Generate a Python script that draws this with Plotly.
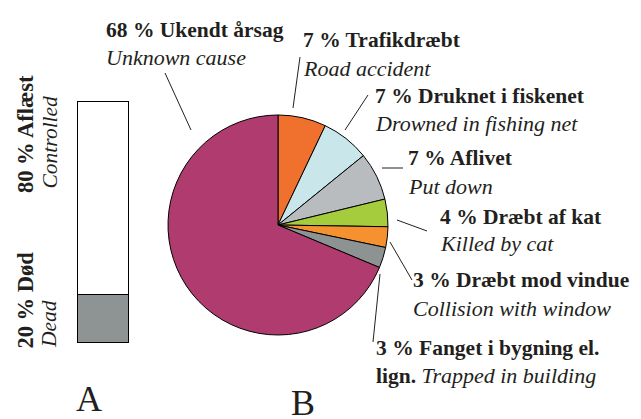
import plotly.graph_objects as go

W, H = 641, 419

# Data
pie_labels_da = ["Trafikdræbt", "Druknet i fiskenet", "Aflivet", "Dræbt af kat",
                 "Dræbt mod vindue", "Fanget i bygning el. lign.", "Ukendt årsag"]
pie_labels_en = ["Road accident", "Drowned in fishing net", "Put down", "Killed by cat",
                 "Collision with window", "Trapped in building", "Unknown cause"]
pie_values = [7, 7, 7, 4, 3, 3, 68]
pie_colors = ["#f0702e", "#c9e7ea", "#b8bcbf", "#a4cc3c", "#f6912f", "#8d9293", "#b03b6f"]

bar_categories = ["Død", "Aflæst"]
bar_values = [20, 80]
bar_colors = ["#8e9394", "#ffffff"]

FONT = "'Liberation Serif', 'DejaVu Serif', serif"
TXT = "#231f20"
BOLD_SIZE = 21.5
ITAL_SIZE = 22

def px(x):
    return x / W

def py(y):
    return 1 - y / H

fig = go.Figure()

fig.add_trace(go.Pie(
    values=pie_values, labels=pie_labels_da, sort=False, direction="clockwise",
    rotation=0, marker=dict(colors=pie_colors, line=dict(color="black", width=1)),
    textinfo="none", hoverinfo="label+percent", showlegend=False,
    domain=dict(x=[px(168), px(388)], y=[py(335), py(115)])
))

for cat, val, col in zip(bar_categories, bar_values, bar_colors):
    fig.add_trace(go.Bar(
        x=[0], y=[val], name=cat, marker=dict(color=col, line=dict(color="black", width=1)),
        showlegend=False, xaxis="x", yaxis="y", width=1
    ))

fig.update_layout(
    width=W, height=H, margin=dict(l=0, r=0, t=0, b=0),
    paper_bgcolor="white", plot_bgcolor="rgba(0,0,0,0)",
    barmode="stack", bargap=0,
    xaxis=dict(domain=[px(76), px(131)], range=[-0.54, 0.54], visible=False, fixedrange=True),
    yaxis=dict(domain=[py(345), py(100)], range=[-0.8, 100.8], visible=False, fixedrange=True),
    font=dict(family=FONT, color=TXT),
)

ann = []
def label(x, y, text, italic=False, bold=False):
    t = text
    size = ITAL_SIZE
    if bold:
        t = "<b>" + t + "</b>"
        size = BOLD_SIZE
    if italic:
        t = "<i>" + t + "</i>"
    ann.append(dict(x=px(x - 2), y=py(y), xref="paper", yref="paper", text=t, showarrow=False,
                    xanchor="left", yanchor="middle", font=dict(size=size, family=FONT, color=TXT)))

# pie labels: (x, y bold line, y italic line)
pos = [(303, 40, 68), (375, 96, 123), (408, 158, 186), (440, 217, 243), (413, 280, 308)]
for i, (x, y1, y2) in enumerate(pos):
    label(x, y1, f"{pie_values[i]} % {pie_labels_da[i]}", bold=True)
    label(x, y2, pie_labels_en[i], italic=True)
# Fanget i bygning
label(376, 348, f"{pie_values[5]} % Fanget i bygning el.", bold=True)
ann.append(dict(x=px(374), y=py(375), xref="paper", yref="paper",
                text=f"<b>lign.</b> <i><span style='font-size:{ITAL_SIZE}px'>" + pie_labels_en[5] + "</span></i>",
                showarrow=False, xanchor="left", yanchor="middle",
                font=dict(size=BOLD_SIZE, family=FONT, color=TXT)))
# Ukendt
label(106, 30, f"{pie_values[6]} % {pie_labels_da[6]}", bold=True)
label(106, 57, pie_labels_en[6], italic=True)

# vertical bar labels
def vlabel(x, ybottom, text, size):
    ann.append(dict(x=px(x), y=py(ybottom + 2), xref="paper", yref="paper", text=text, showarrow=False,
                    xanchor="center", yanchor="bottom", textangle=-90,
                    font=dict(size=size, family=FONT, color=TXT)))
vlabel(25, 193, f"<b>{bar_values[1]} % {bar_categories[1]}</b>", 22.5)
vlabel(49, 189, "<i>Controlled</i>", 21.5)
vlabel(25, 349, f"<b>{bar_values[0]} % {bar_categories[0]}</b>", 22.5)
vlabel(49, 348, "<i>Dead</i>", 21.5)

# panel letters
for x, y, t in [(89, 399, "A"), (303, 403, "B")]:
    ann.append(dict(x=px(x), y=py(y), xref="paper", yref="paper", text=t, showarrow=False,
                    xanchor="center", yanchor="middle", font=dict(size=36, family=FONT, color=TXT)))

fig.update_layout(annotations=ann)

# leader lines
leaders = [((165, 73), (191, 130)), ((300, 57), (293, 108)), ((368, 95), (345, 130)),
           ((382, 168), (403, 168)), ((397, 220), (427, 231)), ((390, 242), (412, 280)),
           ((380, 274), (373, 342))]
shapes = []
for (x0, y0), (x1, y1) in leaders:
    shapes.append(dict(type="line", xref="paper", yref="paper", x0=px(x0), y0=py(y0),
                       x1=px(x1), y1=py(y1), line=dict(color=TXT, width=1)))
fig.update_layout(shapes=shapes)

fig.write_html("out.html", config={"displayModeBar": False},
               post_script="document.body.style.margin='0';document.body.style.padding='0';")
